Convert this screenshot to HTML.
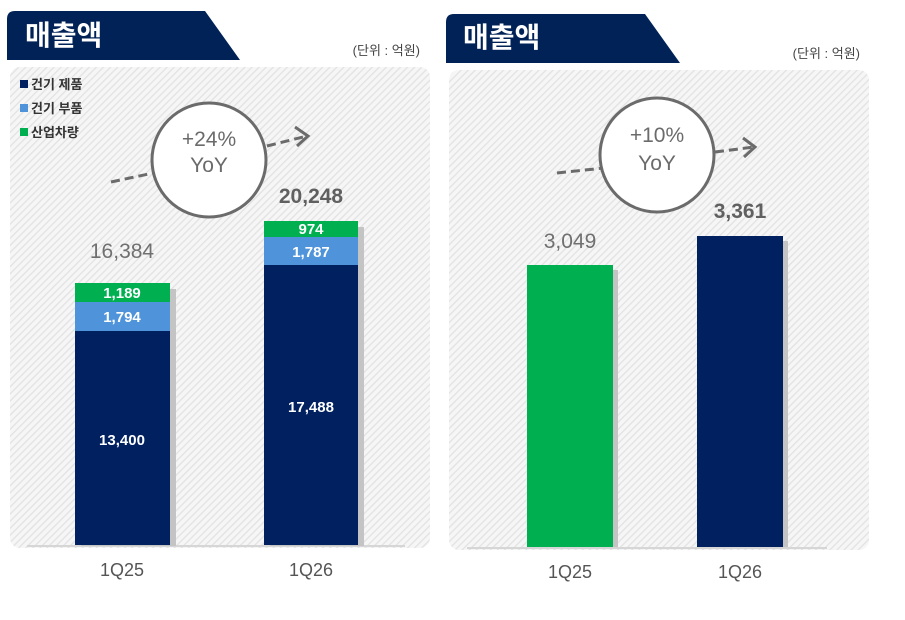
<!DOCTYPE html>
<html><head><meta charset="utf-8"><style>
body{margin:0;width:905px;height:615px;background:#fff;overflow:hidden;font-family:"Liberation Sans","Noto Sans CJK KR",sans-serif;}
svg text{font-family:"Liberation Sans","Noto Sans CJK KR",sans-serif;}
</style></head><body>
<svg width="905" height="615" viewBox="0 0 905 615">
<defs>
<pattern id="h" width="5" height="5" patternUnits="userSpaceOnUse" patternTransform="rotate(-45)">
<rect width="5" height="5" fill="#f6f6f6"/><rect width="5" height="1.3" fill="#e2e2e2"/>
</pattern>
</defs>
<rect x="10" y="67" width="420" height="481" rx="10" fill="url(#h)"/>
<rect x="449" y="70" width="420" height="480" rx="10" fill="url(#h)"/>
<path d="M7,19 Q7,11 15,11 L205,11 L240,60 L7,60 Z" fill="#002256"/>
<text x="25" y="45" font-size="28" font-weight="bold" fill="#fff">매출액</text>
<text x="420" y="55" font-size="13" fill="#444" text-anchor="end">(단위 : 억원)</text>
<path d="M446,22 Q446,14 454,14 L645,14 L680,63 L446,63 Z" fill="#002256"/>
<text x="463" y="47" font-size="28" font-weight="bold" fill="#fff">매출액</text>
<text x="860" y="58" font-size="13" fill="#444" text-anchor="end">(단위 : 억원)</text>
<rect x="20" y="80" width="8" height="8" fill="#002060"/><text x="31" y="89" font-size="13" font-weight="bold" fill="#333">건기 제품</text>
<rect x="20" y="104" width="8" height="8" fill="#4f94da"/><text x="31" y="113" font-size="13" font-weight="bold" fill="#333">건기 부품</text>
<rect x="20" y="128" width="8" height="8" fill="#00b050"/><text x="31" y="137" font-size="13" font-weight="bold" fill="#333">산업차량</text>
<g stroke="#6b6b6b" stroke-width="3" fill="none">
<line x1="111" y1="182" x2="158" y2="172" stroke-dasharray="9,5"/>
<line x1="267" y1="146" x2="307" y2="136" stroke-dasharray="9,5"/>
<polyline points="295,127 308,136 297,146"/>
<circle cx="209" cy="160" r="57" fill="#fff"/>
<line x1="557" y1="173" x2="604" y2="168" stroke-dasharray="9,5"/>
<line x1="715" y1="152" x2="754" y2="147" stroke-dasharray="9,5"/>
<polyline points="743,138 755,147 744,157"/>
<circle cx="657" cy="155" r="57" fill="#fff"/>
</g>
<text x="209" y="146" font-size="21" fill="#6b6b6b" text-anchor="middle">+24%</text>
<text x="209" y="172" font-size="21" fill="#6b6b6b" text-anchor="middle">YoY</text>
<text x="657" y="142" font-size="21" fill="#6b6b6b" text-anchor="middle">+10%</text>
<text x="657" y="170" font-size="21" fill="#6b6b6b" text-anchor="middle">YoY</text>
<rect x="27" y="545" width="378" height="2" fill="#d6d6d6"/>
<rect x="467" y="547" width="360" height="2" fill="#d6d6d6"/>
<rect x="81" y="289" width="95" height="257" fill="#c4c4c4"/>
<rect x="75" y="283" width="95" height="19" fill="#00b050"/>
<rect x="75" y="302" width="95" height="29" fill="#4f94da"/>
<rect x="75" y="331" width="95" height="214" fill="#002060"/>
<rect x="270" y="227" width="94" height="319" fill="#c4c4c4"/>
<rect x="264" y="221" width="94" height="16" fill="#00b050"/>
<rect x="264" y="237" width="94" height="28" fill="#4f94da"/>
<rect x="264" y="265" width="94" height="280" fill="#002060"/>
<g fill="#fff" font-size="15" font-weight="bold" text-anchor="middle">
<text x="122" y="298">1,189</text>
<text x="122" y="322">1,794</text>
<text x="122" y="445">13,400</text>
<text x="311" y="234">974</text>
<text x="311" y="257">1,787</text>
<text x="311" y="412">17,488</text>
</g>
<text x="122" y="258" font-size="21" fill="#707070" text-anchor="middle">16,384</text>
<text x="311" y="203" font-size="21" font-weight="bold" fill="#606060" text-anchor="middle">20,248</text>
<text x="122" y="576" font-size="18" fill="#555" text-anchor="middle">1Q25</text>
<text x="311" y="576" font-size="18" fill="#555" text-anchor="middle">1Q26</text>
<rect x="532" y="270" width="86" height="277" fill="#c4c4c4"/>
<rect x="527" y="265" width="86" height="282" fill="#00b050"/>
<rect x="702" y="241" width="86" height="306" fill="#c4c4c4"/>
<rect x="697" y="236" width="86" height="311" fill="#002060"/>
<text x="570" y="248" font-size="21" fill="#707070" text-anchor="middle">3,049</text>
<text x="740" y="218" font-size="21" font-weight="bold" fill="#606060" text-anchor="middle">3,361</text>
<text x="570" y="578" font-size="18" fill="#555" text-anchor="middle">1Q25</text>
<text x="740" y="578" font-size="18" fill="#555" text-anchor="middle">1Q26</text>
</svg>
</body></html>
